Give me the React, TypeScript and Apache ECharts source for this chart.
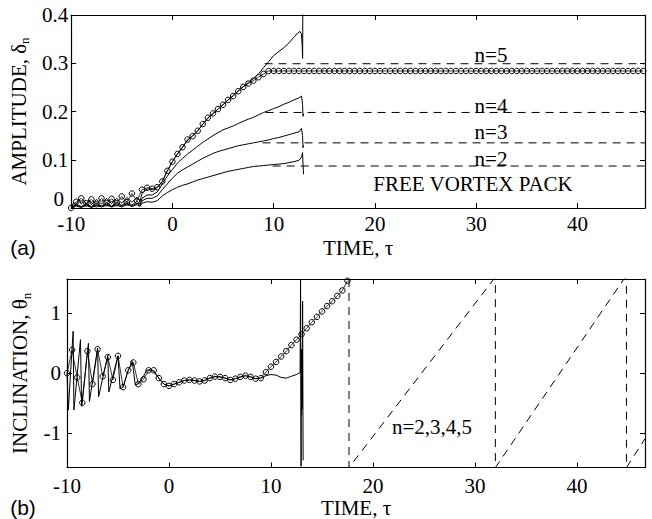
import React, { useEffect, useRef } from "react";
import * as echarts from "echarts";

// ---------- axes ----------
const X_MIN = -10;
const X_MAX = 46.67;
const HALF_PI = 1.5708;
const xTicks = [-10, 0, 10, 20, 30, 40];
const ampTicks = [0, 0.1, 0.2, 0.3, 0.4];
const ampLabelTicks = [0.1, 0.2, 0.3, 0.4]; // "0" is drawn as a separate text, nudged clear of "-10"
const incTicks = [-1, 0, 1];

// ---------- sample times of the circle-marked series ----------
const sampleTimes = [
  -10, -9.5, -9, -8.5, -8, -7.5, -7, -6.5, -6, -5.5, -5, -4.5, -4, -3.5, -3, -2.5, -2, -1.5, -1, -0.5,
  0, 0.5, 1, 1.5, 2, 2.5, 3, 3.5, 4, 4.5, 5, 5.5, 6, 6.5, 7, 7.5, 8, 8.5, 9, 9.5,
  10, 10.5, 11, 11.5, 12, 12.5, 13, 13.5, 14, 14.5, 15, 15.5, 16, 16.5, 17, 17.5, 18, 18.5, 19, 19.5,
  20, 20.5, 21, 21.5, 22, 22.5, 23, 23.5, 24, 24.5, 25, 25.5, 26, 26.5, 27, 27.5, 28, 28.5, 29, 29.5,
  30, 30.5, 31, 31.5, 32, 32.5, 33, 33.5, 34, 34.5, 35, 35.5, 36, 36.5, 37, 37.5, 38, 38.5, 39, 39.5,
  40, 40.5, 41, 41.5, 42, 42.5, 43, 43.5, 44, 44.5, 45, 45.5, 46, 46.5,
];

// (a) amplitude, circles (model)
const ampCircles = [
  0, 0.013, 0.02, 0.01, 0.018, 0.008, 0.02, 0.01, 0.019, 0.01, 0.024, 0.012, 0.03, 0.015, 0.038, 0.042, 0.04, 0.043, 0.055, 0.077,
  0.096, 0.112, 0.126, 0.142, 0.149, 0.16, 0.174, 0.187, 0.196, 0.205, 0.214, 0.224, 0.232, 0.242, 0.251, 0.258, 0.264, 0.271, 0.278, 0.284,
  0.284, 0.284, 0.284, 0.284, 0.284, 0.284, 0.284, 0.284, 0.284, 0.284, 0.284, 0.284, 0.284, 0.284, 0.284, 0.284, 0.284, 0.284, 0.284, 0.284,
  0.284, 0.284, 0.284, 0.284, 0.284, 0.284, 0.284, 0.284, 0.284, 0.284, 0.284, 0.284, 0.284, 0.284, 0.284, 0.284, 0.284, 0.284, 0.284, 0.284,
  0.284, 0.284, 0.284, 0.284, 0.284, 0.284, 0.284, 0.284, 0.284, 0.284, 0.284, 0.284, 0.284, 0.284, 0.284, 0.284, 0.284, 0.284, 0.284, 0.284,
  0.284, 0.284, 0.284, 0.284, 0.284, 0.284, 0.284, 0.284, 0.284, 0.284, 0.284, 0.284, 0.284, 0.284,
];

// (b) inclination, circles (model), sampled up to tau = 17.5
const incCircles = [
  0, 0.39, -0.07, -0.49, 0.37, -0.18, 0.4, -0.05, 0.27, -0.11, 0.29, -0.23, 0.05, 0.18, -0.18, -0.1, 0.05, 0.05, -0.08, -0.18,
  -0.21, -0.18, -0.15, -0.12, -0.11, -0.12, -0.135, -0.12, -0.08, -0.055, -0.06, -0.08, -0.11, -0.09, -0.06, -0.04, -0.06, -0.09, -0.08, 0.02,
  0.11, 0.19, 0.28, 0.37, 0.47, 0.56, 0.65, 0.75, 0.85, 0.94, 1.03, 1.12, 1.2, 1.29, 1.38, 1.54,
];

// (a) amplitude, solid curves n=5..2
const ampN5: [number, number][] = [
  [-10, 0], [-9.75, 0.012], [-9.5, 0.006], [-9.25, 0.018], [-9, 0.008], [-8.75, 0.016], [-8.5, 0.006], [-8.25, 0.017],
  [-8, 0.007], [-7.5, 0.018], [-7, 0.008], [-6.5, 0.02], [-6, 0.009], [-5.5, 0.02], [-5, 0.01], [-4.5, 0.022], [-4, 0.012],
  [-3.5, 0.022], [-3.2, 0.014], [-3, 0.03], [-2.5, 0.04], [-2, 0.038], [-1.5, 0.042], [-1, 0.055], [-0.5, 0.077], [0, 0.096],
  [0.5, 0.112], [1, 0.126], [1.5, 0.14], [2, 0.15], [2.5, 0.16], [3, 0.173], [3.5, 0.186], [4, 0.195], [4.5, 0.205],
  [5, 0.214], [5.5, 0.224], [6, 0.233], [6.5, 0.243], [7, 0.252], [7.5, 0.26], [8, 0.268], [8.5, 0.278], [9, 0.291],
  [9.5, 0.303], [10, 0.316], [10.5, 0.324], [11, 0.332], [11.5, 0.342], [12, 0.354], [12.4, 0.363], [12.6, 0.366],
  [12.75, 0.36], [12.82, 0.335], [12.86, 0.31], [12.88, 0.42],
];
const ampN4: [number, number][] = [
  [-10, 0], [-9.5, 0.008], [-9, 0.003], [-8.5, 0.009], [-8, 0.003], [-7.5, 0.01], [-7, 0.004], [-6.5, 0.011], [-6, 0.004],
  [-5.5, 0.012], [-5, 0.005], [-4.5, 0.013], [-4, 0.006], [-3.5, 0.014], [-3.2, 0.008], [-3, 0.02], [-2.5, 0.027], [-2, 0.027],
  [-1.5, 0.033], [-1, 0.05], [-0.5, 0.066], [0, 0.08], [0.5, 0.093], [1, 0.103], [1.5, 0.112], [2, 0.12], [2.5, 0.128],
  [3, 0.136], [3.5, 0.143], [4, 0.15], [4.5, 0.156], [5, 0.162], [5.5, 0.166], [6, 0.17], [6.5, 0.175], [7, 0.18],
  [7.5, 0.184], [8, 0.188], [8.5, 0.193], [9, 0.198], [9.5, 0.202], [10, 0.206], [10.5, 0.21], [11, 0.215], [11.5, 0.219],
  [12, 0.224], [12.5, 0.228], [12.75, 0.232], [12.85, 0.215], [12.9, 0.19], [12.95, 0.195],
];
const ampN3: [number, number][] = [
  [-10, 0], [-9.5, 0.006], [-9, 0.002], [-8.5, 0.007], [-8, 0.002], [-7.5, 0.007], [-7, 0.003], [-6.5, 0.008], [-6, 0.003],
  [-5.5, 0.009], [-5, 0.004], [-4.5, 0.01], [-4, 0.004], [-3.5, 0.01], [-3.2, 0.005], [-3, 0.015], [-2.5, 0.02], [-2, 0.02],
  [-1.5, 0.025], [-1, 0.038], [-0.5, 0.05], [0, 0.062], [0.5, 0.072], [1, 0.079], [1.5, 0.085], [2, 0.091], [2.5, 0.097],
  [3, 0.103], [3.5, 0.108], [4, 0.113], [4.5, 0.117], [5, 0.12], [5.5, 0.123], [6, 0.126], [6.5, 0.129], [7, 0.131],
  [7.5, 0.133], [8, 0.135], [8.5, 0.137], [9, 0.139], [9.5, 0.141], [10, 0.144], [10.5, 0.146], [11, 0.149], [11.5, 0.152],
  [12, 0.155], [12.5, 0.158], [12.75, 0.165], [12.85, 0.15], [12.9, 0.125], [12.95, 0.13],
];
const ampN2: [number, number][] = [
  [-10, 0], [-9.5, 0.004], [-9, 0.001], [-8.5, 0.005], [-8, 0.001], [-7.5, 0.005], [-7, 0.002], [-6.5, 0.006], [-6, 0.002],
  [-5.5, 0.006], [-5, 0.002], [-4.5, 0.007], [-4, 0.003], [-3.5, 0.007], [-3.2, 0.003], [-3, 0.01], [-2.5, 0.013], [-2, 0.012],
  [-1.5, 0.015], [-1, 0.025], [-0.5, 0.032], [0, 0.038], [0.5, 0.043], [1, 0.047], [1.5, 0.05], [2, 0.054], [2.5, 0.058],
  [3, 0.061], [3.5, 0.064], [4, 0.067], [4.5, 0.07], [5, 0.073], [5.5, 0.076], [6, 0.078], [6.5, 0.08], [7, 0.082],
  [7.5, 0.084], [8, 0.086], [8.5, 0.087], [9, 0.088], [9.5, 0.089], [10, 0.09], [10.5, 0.091], [11, 0.092], [11.5, 0.094],
  [12, 0.096], [12.5, 0.099], [12.75, 0.105], [12.85, 0.115], [12.9, 0.09], [12.95, 0.07],
];

// (a) free vortex pack levels, n = 2, 3, 4, 5
const freeLevels = [0.087, 0.135, 0.198, 0.299];
const freeStart = [9.9, 8.9, 9.2, 9.1];
const freeLabels = ["n=2", "n=3", "n=4", "n=5"];

// (b) inclination, solid curve
const incLine: [number, number][] = [
  [-10, 0], [-9.87, -0.61], [-9.4, 0.7], [-9.32, -0.61], [-8.68, 0.56], [-8.56, -0.55], [-7.9, 0.5], [-7.8, -0.47],
  [-7.0, 0.42], [-6.9, -0.39], [-6.0, 0.3], [-5.9, -0.31], [-5.0, 0.29], [-4.8, -0.26], [-4.5, -0.23], [-4.0, 0.05],
  [-3.6, 0.2], [-3.3, -0.2], [-3.0, -0.17], [-2.5, -0.05], [-2.2, 0.05], [-1.8, 0.06], [-1.5, 0.03], [-1, -0.08],
  [-0.5, -0.18], [0, -0.21], [0.5, -0.18], [1, -0.15], [1.5, -0.12], [2, -0.11], [2.5, -0.12], [3, -0.135], [3.5, -0.12],
  [4, -0.08], [4.5, -0.055], [5, -0.06], [5.5, -0.08], [6, -0.11], [6.5, -0.09], [7, -0.06], [7.5, -0.04], [8, -0.06],
  [8.5, -0.09], [9, -0.08], [9.5, -0.04], [10, -0.02], [10.5, -0.03], [11, -0.07], [11.5, -0.08], [12, -0.05],
  [12.5, -0.02], [12.85, 0.01], [12.9, 1.55], [12.95, -1.55], [12.98, 0.4], [13.0, -0.7], [13.03, 0.3], [13.06, -0.6],
  [13.1, 1.2], [13.15, -1.45],
];

// (b) free vortex pack inclination (wrapped), n = 2,3,4,5
const incFree: [number, number][] = [
  [17.65, HALF_PI], [17.65, -HALF_PI], [31.85, HALF_PI], [32.0, HALF_PI], [32.0, -HALF_PI],
  [44.6, HALF_PI], [44.85, HALF_PI], [44.85, -HALF_PI], [46.67, -1.09],
];

const SERIF = "'Liberation Serif', 'Times New Roman', serif";
const SANS = "'Liberation Sans', Arial, sans-serif";
const FS = 21;

const pairs = (xs: number[], ys: number[]) => ys.map((y, i) => [xs[i], y]);

export default function App() {
  const ref = useRef<HTMLDivElement>(null);

  useEffect(() => {
    if (!ref.current) return;
    const chart = echarts.init(ref.current, undefined, { renderer: "svg" });

    const lineStyle = { show: true, onZero: false, lineStyle: { color: "#000", width: 1.2 } };
    const tick = (vals: number[]) => ({
      show: true, inside: true, length: 5, customValues: vals, lineStyle: { color: "#000", width: 1 },
    });
    const labelBase = { color: "#000", fontFamily: SERIF, fontSize: FS, lineHeight: 14 };
    const nameStyle = (sub: boolean) => ({
      color: "#000", fontFamily: SERIF, fontSize: FS,
      rich: sub ? { s: { fontFamily: SERIF, fontSize: 13, color: "#000", verticalAlign: "bottom", padding: [12, 0, 0, 0] } } : undefined,
    });

    const xAxisFor = (gridIndex: number, position: string, labels: boolean, margin: number, nameGap: number) => ({
      type: "value", gridIndex, position, min: X_MIN, max: X_MAX,
      axisLine: lineStyle, axisTick: tick(xTicks), splitLine: { show: false },
      axisLabel: labels ? { show: true, customValues: xTicks, margin, ...labelBase } : { show: false },
      name: labels ? "TIME, τ" : "", nameLocation: "middle", nameGap, nameTextStyle: nameStyle(false),
    });

    const yAxisFor = (gridIndex: number, position: string, min: number, max: number, ticks: number[], labelTicks: number[], label: string | null, margin: number, nameGap: number, fmt?: (v: number) => string) => ({
      type: "value", gridIndex, position, min, max,
      axisLine: lineStyle, axisTick: tick(ticks), splitLine: { show: false },
      axisLabel: label !== null ? { show: true, customValues: labelTicks, margin, formatter: fmt, ...labelBase } : { show: false },
      name: label || "", nameLocation: "middle", nameRotate: 90, nameGap, nameTextStyle: nameStyle(true),
    });

    const solid = (data: any[], ax: number) => ({
      type: "line", xAxisIndex: ax, yAxisIndex: ax, data, symbol: "none", silent: true,
      lineStyle: { color: "#000", width: 1 }, z: 2,
    });
    const dashed = (data: any[], ax: number) => ({
      type: "line", xAxisIndex: ax, yAxisIndex: ax, data, symbol: "none", silent: true,
      lineStyle: { color: "#000", width: 1, type: [8, 6] }, z: 2,
    });
    const circles = (data: any[], ax: number) => ({
      type: "line", xAxisIndex: ax, yAxisIndex: ax, data, symbol: "circle", symbolSize: 5.5,
      showSymbol: true, showAllSymbol: true, silent: true,
      itemStyle: { color: "rgba(0,0,0,0)", borderColor: "#000", borderWidth: 1 },
      lineStyle: { color: "#000", width: 0.8 }, z: 3,
    });

    const txt = (text: string, x: number, y: number, font = SERIF, align = "center") => ({
      type: "text", x, y, silent: true,
      style: { text, fill: "#000", fontFamily: font, fontSize: FS, align, verticalAlign: "middle" },
    });

    const series: any[] = [
      solid(ampN5, 0), solid(ampN4, 0), solid(ampN3, 0), solid(ampN2, 0),
      ...freeLevels.map((lv, i) => dashed([[freeStart[i], lv], [X_MAX, lv]], 0)),
      circles(pairs(sampleTimes, ampCircles), 0),
      solid(incLine, 2),
      dashed(incFree, 2),
      circles(pairs(sampleTimes, incCircles), 2),
    ];

    chart.setOption({
      animation: false,
      backgroundColor: "#fff",
      grid: [
        { left: 67, top: 15, width: 578, height: 193 },
        { left: 67, top: 279, width: 578, height: 191 },
      ],
      xAxis: [
        xAxisFor(0, "bottom", true, 9, 29),
        xAxisFor(0, "top", false, 3, 0),
        xAxisFor(1, "bottom", true, 11, 25),
        xAxisFor(1, "top", false, 3, 0),
      ],
      yAxis: [
        yAxisFor(0, "left", 0, 0.4, ampTicks, ampLabelTicks, "AMPLITUDE, δ{s|n}", 3, 25, (v: number) => v.toFixed(1)),
        yAxisFor(0, "right", 0, 0.4, ampTicks, [], null, 3, 0),
        yAxisFor(1, "left", -HALF_PI, HALF_PI, incTicks, incTicks, "INCLINATION, θ{s|n}", 6, 25, (v: number) => String(v)),
        yAxisFor(1, "right", -HALF_PI, HALF_PI, incTicks, [], null, 3, 0),
      ],
      series,
      graphic: [
        txt("0", 64, 199, SERIF, "right"),
        ...freeLabels.map((t, i) => txt(t, 491, [159, 132, 106, 55][i])),
        txt("FREE VORTEX PACK", 473, 184),
        txt("n=2,3,4,5", 432, 427),
        txt("(a)", 23, 247, SANS),
        txt("(b)", 23, 507, SANS),
      ],
    });

    return () => chart.dispose();
  }, []);

  return (
    <div
      ref={ref}
      style={{ position: "fixed", left: 0, top: 0, width: 652, height: 519, background: "#fff" }}
    />
  );
}
